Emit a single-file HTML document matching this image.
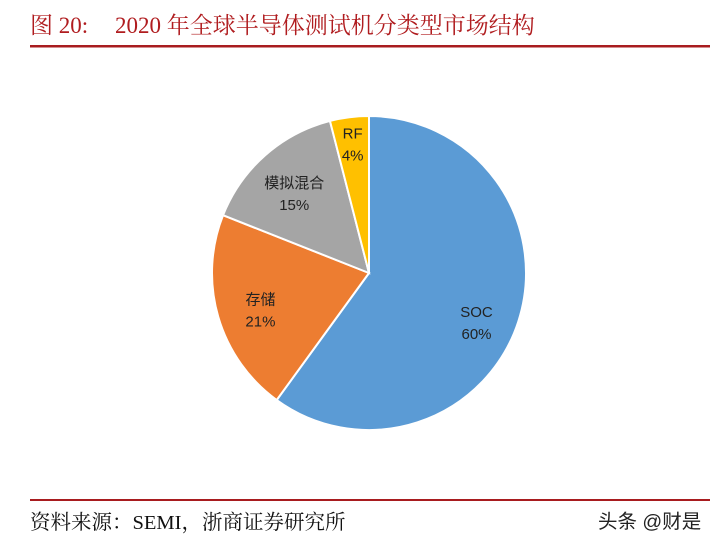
<!DOCTYPE html>
<html><head><meta charset="utf-8"><style>
body{margin:0;background:#fff;width:712px;height:546px;overflow:hidden}
svg{display:block}
</style></head><body>
<svg width="712" height="546">
<text x="30" y="33" font-family="'Liberation Serif','Noto Serif CJK SC',serif" font-size="23" fill="#b01c1f">图 20:<tspan x="115">2020 年全球半导体测试机分类型市场结构</tspan></text>
<rect x="30" y="45" width="680" height="2.5" fill="#a81c1f"/>
<g id="pie"></g>
<rect x="30" y="499" width="680" height="2" fill="#a81c1f"/>
<text x="30" y="529" font-family="'Liberation Serif','Noto Serif CJK SC',serif" font-size="20.5" fill="#111">资料来源：SEMI，浙商证券研究所</text>
<text x="598" y="528" font-family="'Liberation Sans','Noto Sans CJK SC',sans-serif" font-size="19.5" fill="#222">头条 @财是</text>
</svg>
<script>
const categories=["SOC","存储","模拟混合","RF"];
const values=[60,21,15,4];
const colors=["#5b9bd5","#ed7d31","#a5a5a5","#ffc000"];
const cx=369,cy=273,r=157;
const g=document.getElementById('pie');
const ns="http://www.w3.org/2000/svg";
const total=values.reduce((a,b)=>a+b,0);
let acc=0;
function pt(a,rr){return [cx+rr*Math.sin(a),cy-rr*Math.cos(a)];}
values.forEach((v,i)=>{
  const a0=acc/total*2*Math.PI; acc+=v; const a1=acc/total*2*Math.PI;
  const p0=pt(a0,r),p1=pt(a1,r);
  const path=document.createElementNS(ns,'path');
  path.setAttribute('d',`M${cx},${cy}L${p0[0]},${p0[1]}A${r},${r} 0 ${a1-a0>Math.PI?1:0} 1 ${p1[0]},${p1[1]}Z`);
  path.setAttribute('fill',colors[i]);path.setAttribute('stroke','#fff');path.setAttribute('stroke-width','2');
  
  
  g.appendChild(path);
  const am=(a0+a1)/2; const lr=v<8?r*0.83:r*0.72;
  const lp=pt(am,lr);
  const dy=v>50?14:(v<8?0:5);
  [categories[i],v+'%'].forEach((t,k)=>{
    const tx=document.createElementNS(ns,'text');
    tx.setAttribute('x',lp[0]);tx.setAttribute('y',lp[1]+dy+(k?17:-5));
    tx.setAttribute('text-anchor','middle');tx.setAttribute('font-size','15');
    tx.setAttribute('font-family',"'Liberation Sans','Noto Sans CJK SC',sans-serif");
    tx.setAttribute('fill','#222');tx.textContent=t;
    
    
    g.appendChild(tx);
  });
});
</script>
</body></html>
